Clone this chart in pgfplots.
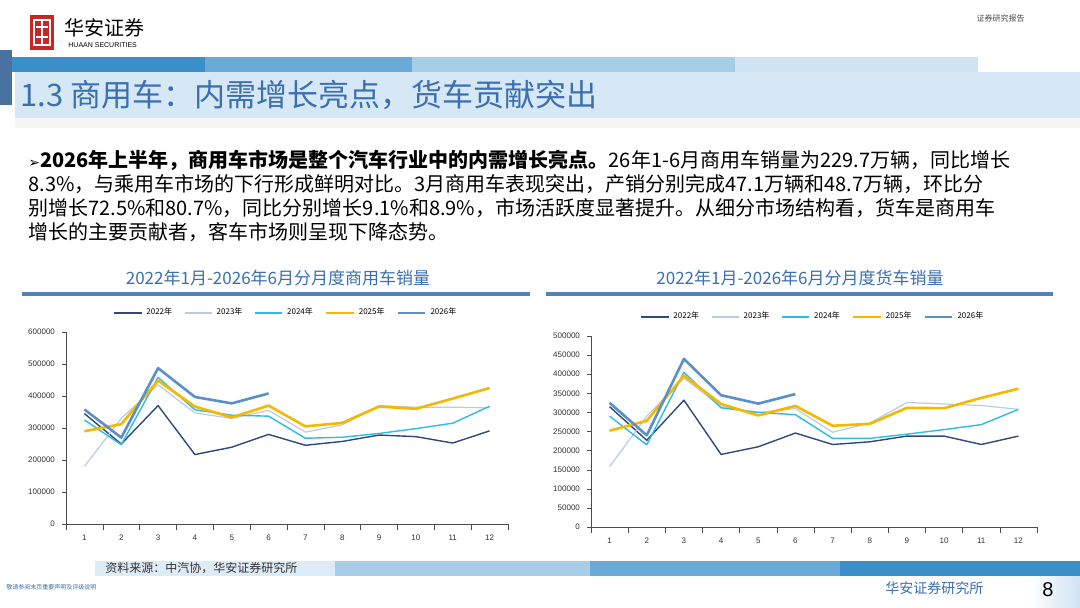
\documentclass[border=0pt]{standalone}
\usepackage{pgfplots}
\pgfplotsset{compat=1.18}
\usepackage{fontspec}
\setmainfont{Noto Sans CJK SC}
\newfontfamily\lib{Liberation Sans}
\newfontfamily\dv{DejaVu Sans}
\definecolor{c22}{HTML}{2E4A7D}
\definecolor{c23}{HTML}{B8CCE4}
\definecolor{c24}{HTML}{2EBCE6}
\definecolor{c25}{HTML}{F5B800}
\definecolor{c26}{HTML}{5B8FC9}
\definecolor{tblue}{HTML}{3A6FB0}
\definecolor{b1}{HTML}{3A8FC8}
\definecolor{b2}{HTML}{6AAAD8}
\definecolor{b3}{HTML}{A8CDE8}
\definecolor{b4}{HTML}{CFE3F3}
\pgfplotsset{
  mych/.style={scale only axis, axis x line*=bottom, axis y line*=left,
    xmin=0.5, xmax=12.5, ymin=0,
    xtick={1,...,12}, major x tick style={draw=none},
    minor xtick={0.5,1.5,...,12.5}, minor tick length=3pt,
    tick align=outside, major tick length=2pt,
    ticklabel style={font=\lib\fontsize{4}{5}\selectfont, text=black!80},
    /pgf/number format/assume math mode=true,
    scaled y ticks=false, yticklabel style={/pgf/number format/fixed, /pgf/number format/1000 sep={}},
    axis line style={black!70, line width=0.5pt}, tick style={black!70},
    legend columns=5, legend style={draw=none, fill=none, font=\fontsize{4}{5}\selectfont, at={(0.5,1.03)}, anchor=south, /tikz/every even column/.append style={column sep=4pt}},
    legend image post style={xscale=0.8},
    every axis plot/.append style={no marks, line join=round},
  }
}
\begin{document}
\begin{tikzpicture}[x=0.5pt,y=-0.5pt]
\useasboundingbox (0,0) rectangle (1080,608);
\fill[white] (0,0) rectangle (1080,608);
\coordinate (LA) at (66,524);
\coordinate (RA) at (591,527);
% logo
\fill[red!75!black!85] (30,15) rectangle (54,50);
\draw[white,line width=1.2pt] (34,20) rectangle (50,45) (36,27) -- (48,27) (36,37)--(48,37) (42,20)--(42,45);
\node[anchor=west,inner sep=0] at (64,28) {\fontsize{10}{10}\selectfont 华安证券};
\node[anchor=west,inner sep=0] at (68,45) {\lib\fontsize{3.5}{4}\selectfont HUAAN SECURITIES};
\node[anchor=east,inner sep=0] at (1025,18) {\fontsize{4}{5}\selectfont\color{black!70} 证券研究报告};
% title band
\fill[b1] (12,57) rectangle (205,72);
\fill[b2] (205,57) rectangle (412,72);
\fill[b3] (412,57) rectangle (735,72);
\fill[b4] (735,57) rectangle (978,72);
\fill[c26!80!black] (0,50) rectangle (12,105);
\fill[b4!85] (15,72) rectangle (1080,118);
\fill[black!4] (15,118) rectangle (1080,128);
\node[anchor=west,inner sep=0] at (20,95) {\fontsize{15.5}{15.5}\selectfont\color{tblue} 1.3 商用车：内需增长亮点，货车贡献突出};
% body
\node[anchor=north west,inner sep=0,align=left] at (28,150) {\fontsize{10}{11.5}\selectfont
{\dv\fontsize{7}{7}\selectfont ➢}\textbf{2026年上半年，商用车市场是整个汽车行业中的内需增长亮点。}26年1-6月商用车销量为229.7万辆，同比增长\\
8.3\%，与乘用车市场的下行形成鲜明对比。3月商用车表现突出，产销分别完成47.1万辆和48.7万辆，环比分\\
别增长72.5\%和80.7\%，同比分别增长9.1\%和8.9\%，市场活跃度显著提升。从细分市场结构看，货车是商用车\\
增长的主要贡献者，客车市场则呈现下降态势。};
% chart titles
\node at (278,278) {\fontsize{8.5}{9}\selectfont\color{tblue} 2022年1月-2026年6月分月度商用车销量};
\node at (800,278) {\fontsize{8.5}{9}\selectfont\color{tblue} 2022年1月-2026年6月分月度货车销量};
\fill[c26!90!black] (22,292) rectangle (530,296);
\fill[c26!90!black] (546,292) rectangle (1053,296);
% footer
\fill[b4!70] (95,561) rectangle (335,576);
\fill[b3] (335,561) rectangle (590,576);
\fill[b2] (590,561) rectangle (840,576);
\fill[b1] (840,561) rectangle (1080,576);
\node[anchor=west,inner sep=0] at (105,568) {\fontsize{6}{7}\selectfont\color{black!80} 资料来源：中汽协，华安证券研究所};
\node[anchor=west,inner sep=0] at (6,587) {\fontsize{3}{4}\selectfont\color{tblue} 敬请参阅末页重要声明及评级说明};
\node[anchor=west,inner sep=0] at (885,588) {\fontsize{7}{8}\selectfont\color{tblue} 华安证券研究所};
\shade[left color=white, right color=b4] (1030,576) rectangle (1080,608);
\node at (1048,590) {\lib\fontsize{10}{10}\selectfont 8};
% left chart
\begin{axis}[mych, at={(LA)}, anchor=south west, width=221pt, height=96pt,
  ymax=600000, ytick={0,100000,...,600000}]
\addplot[c22, line width=0.7pt] coordinates {(1,345000)(2,250000)(3,370000)(4,217000)(5,240000)(6,280000)(7,246000)(8,258000)(9,278000)(10,273000)(11,253000)(12,291000)};
\addplot[c23, line width=0.6pt] coordinates {(1,180000)(2,330000)(3,435000)(4,347000)(5,330000)(6,355000)(7,287000)(8,310000)(9,370000)(10,365000)(11,365000)(12,363000)};
\addplot[c24, line width=0.7pt] coordinates {(1,325000)(2,248000)(3,458000)(4,357000)(5,340000)(6,337000)(7,268000)(8,271000)(9,283000)(10,298000)(11,315000)(12,368000)};
\addplot[c25, line width=1.3pt] coordinates {(1,290000)(2,312000)(3,448000)(4,367000)(5,333000)(6,370000)(7,305000)(8,316000)(9,367000)(10,360000)(11,392000)(12,425000)};
\addplot[c26, line width=1.3pt] coordinates {(1,358000)(2,270000)(3,487000)(4,397000)(5,377000)(6,408000)};
\legend{2022年,2023年,2024年,2025年,2026年}
\end{axis}
% right chart
\begin{axis}[mych, at={(RA)}, anchor=south west, width=223pt, height=95.5pt,
  ymax=500000, ytick={0,50000,...,500000}]
\addplot[c22, line width=0.7pt] coordinates {(1,315000)(2,227000)(3,332000)(4,190000)(5,210000)(6,246000)(7,216000)(8,223000)(9,238000)(10,238000)(11,216000)(12,238000)};
\addplot[c23, line width=0.6pt] coordinates {(1,158000)(2,290000)(3,390000)(4,315000)(5,300000)(6,310000)(7,248000)(8,272000)(9,326000)(10,322000)(11,318000)(12,308000)};
\addplot[c24, line width=0.7pt] coordinates {(1,290000)(2,215000)(3,405000)(4,312000)(5,300000)(6,294000)(7,232000)(8,232000)(9,243000)(10,255000)(11,268000)(12,308000)};
\addplot[c25, line width=1.3pt] coordinates {(1,252000)(2,278000)(3,396000)(4,322000)(5,292000)(6,317000)(7,265000)(8,270000)(9,312000)(10,311000)(11,338000)(12,362000)};
\addplot[c26, line width=1.3pt] coordinates {(1,325000)(2,240000)(3,440000)(4,345000)(5,323000)(6,348000)};
\legend{2022年,2023年,2024年,2025年,2026年}
\end{axis}
\end{tikzpicture}
\end{document}
